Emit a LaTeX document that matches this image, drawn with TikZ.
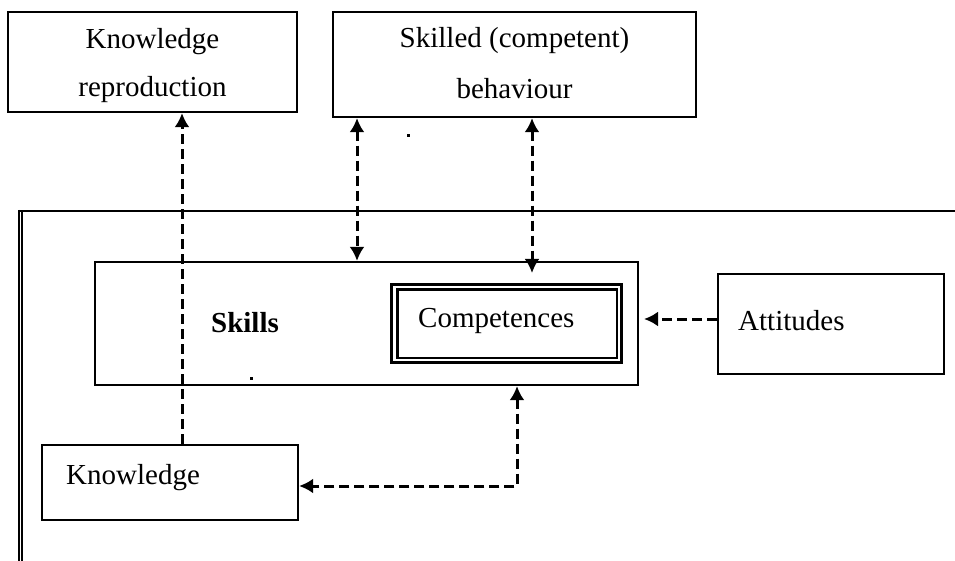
\documentclass[tikz,border=0pt]{standalone}
\usepackage{fontspec}
\setmainfont{Liberation Serif}
\usetikzlibrary{arrows.meta}
\begin{document}
\begin{tikzpicture}[x=1pt,y=-1pt,
  box/.style={draw, line width=2.2pt, inner sep=0pt, minimum width=#1},
  txt/.style={anchor=base, inner sep=0pt, font=\fontsize{29}{43}\selectfont},
  conn/.style={line width=3pt, dash pattern=on 10pt off 5pt, -{Latex[length=14pt,width=15pt]}},
  conntwo/.style={line width=3pt, dash pattern=on 10pt off 5pt, {Latex[length=14pt,width=15pt]}-{Latex[length=14pt,width=15pt]}},
  frameline/.style={line width=2.8pt},
  dot/.style={fill=black, inner sep=0pt, minimum size=3pt}]
\useasboundingbox (0,0) rectangle (955,561);
% outer frame
\draw[frameline] (18.3,211) -- (955,211);
\draw[line width=2pt] (19.2,210) -- (19.2,561);
\draw[line width=2pt] (22.2,211) -- (22.2,561);
% boxes
\node[box=289pt, minimum height=100pt] (kr) at (152.5,62) {};
\node[box=363pt, minimum height=105pt] (sk) at (514.5,64.5) {};
\node[box=543pt, minimum height=123pt] (skills) at (366.5,323.5) {};
\node[box=229.9pt, minimum height=78.2pt, line width=2.8pt] (comp) at (506.25,323.7) {};
\node[box=219.7pt, minimum height=68.5pt, line width=2.6pt] (compin) at (507.15,323.75) {};
\node[box=226pt, minimum height=100pt] (att) at (831,324) {};
\node[box=256pt, minimum height=75pt] (kn) at (170,482.5) {};
% texts
\node[txt] (t1) at (152.5,49) {Knowledge};
\node[txt] (t2) at (152.5,97) {reproduction};
\node[txt] (t3) at (514.5,48) {Skilled (competent)};
\node[txt] (t4) at (514.5,99) {behaviour};
\node[txt, font=\fontsize{29}{43}\selectfont\bfseries] (t5) at (245,332) {Skills};
\node[txt, anchor=base west] (t6) at (418,327) {Competences};
\node[txt, anchor=base west] (t7) at (738,330) {Attitudes};
\node[txt, anchor=base west] (t8) at (66,484) {Knowledge};
% stray dots
\node[dot] (d1) at (408,136) {};
\node[dot] (d2) at (251,378) {};
% connectors
\coordinate (c1) at (182,0);
\draw[conn] (c1 |- kn.north) -- (c1 |- kr.south);
\coordinate (c2) at (357,0);
\draw[conntwo] (c2 |- sk.south) -- (c2 |- skills.north);
\coordinate (c3) at (532,273);
\draw[conntwo] (c3 |- sk.south) -- (c3);
\coordinate (c4) at (644,319);
\draw[conn] (c4 -| att.west) -- (c4);
\coordinate (c5) at (517,486);
\draw[conntwo] (c5 |- skills.south) -- (c5) -- (c5 -| kn.east);
\end{tikzpicture}
\end{document}
